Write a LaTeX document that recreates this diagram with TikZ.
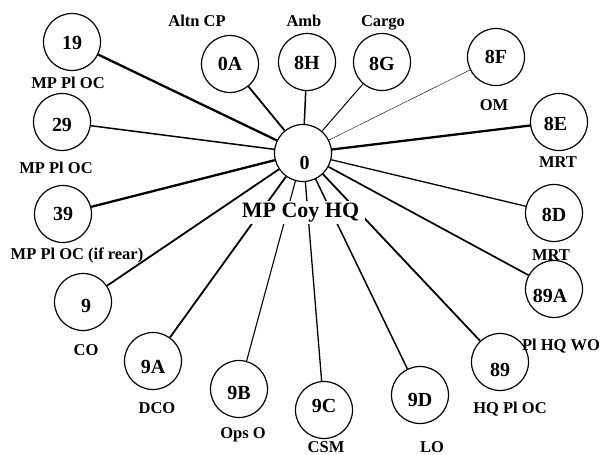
\documentclass[tikz,border=0pt]{standalone}
\usepackage{fontspec}
\setmainfont{Liberation Serif}
\tikzset{
  stn/.style={circle,draw,line width=1.2pt,minimum size=57pt,inner sep=0pt},
  stnnum/.style={font=\fontsize{20}{20}\selectfont\bfseries,inner sep=0pt},
  role/.style={font=\fontsize{16.5}{16.5}\selectfont\bfseries,inner sep=0pt,anchor=base},
}

\begin{document}
\begin{tikzpicture}[x=1pt,y=-1pt]
\useasboundingbox (0,0) rectangle (603,455);

% stations: name/x/y/dx/dy of the number
\def\stations{
19/72/42/0/1, 29/62/122/0/3, 39/63/214/0/0, 9/83/302/3/4,
9A/153/361/0/6, 9B/239/389/0/4, 9C/324/410/0/-4, 9D/420/395/0/5,
89/500/362/0/8, 89A/554/289/-4/7, 8D/554/213/0/1.5, 8E/559/122/-3.5/2,
8F/496/57/0/0, 8G/382/62/0/1.5, 8H/307/62/0/1, 0A/230/64/0/0
}

% roles: text/x/baseline
\def\roles{
Altn CP/197/26, Amb/304/26, Cargo/383/26, OM/494/110,
MRT/558/167, MRT/551/260, Pl HQ WO/561/350, HQ Pl OC/510/413,
LO/432/452, CSM/326/452, Ops O/243/438, DCO/157/413, CO/86/355,
{MP Pl OC (if rear)}/77/259, MP Pl OC/56/173, MP Pl OC/68/88
}

% the HQ in the middle
\node[stn,label={[stnnum,xshift=1.5pt,yshift=-10pt]center:0}] (hq) at (303,153) {};

% the outer stations
\foreach \t/\x/\y/\dx/\dy in \stations
  \node[stn,label={[stnnum,xshift=\dx pt,yshift=-\dy pt]center:\t}] (n\t) at (\x,\y) {};

% the links, each with its own weight
\foreach \t/\w in {19/2.3, 29/1.5, 39/2.3, 9/1.8, 9A/1.8, 9B/1.1, 9C/1.3, 9D/1.5,
                   89/1.8, 89A/1.7, 8D/1.3, 8E/2.3, 8F/0.4, 8G/1.0, 8H/1.5, 0A/1.8}
  \draw[line width=\w pt] (n\t) -- (hq);

% the names
\node[font=\fontsize{22}{22}\selectfont\bfseries,fill=white,inner xsep=6pt,inner ysep=2pt]
  (hqlbl) at (300.5,212.5) {MP Coy HQ};
\foreach \r/\x/\y [count=\ri] in \roles
  \node[role] (role\ri) at (\x,\y) {\r};

\end{tikzpicture}
\end{document}
